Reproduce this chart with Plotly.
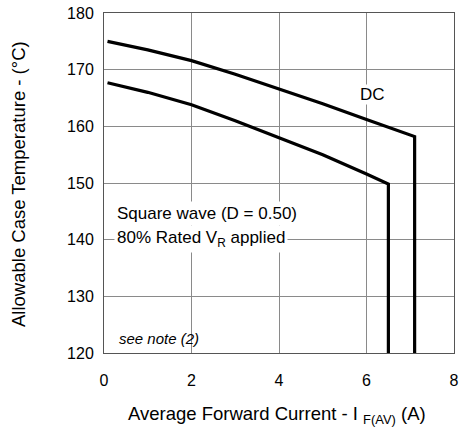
import plotly.graph_objects as go

# Derating curves: allowable case temperature vs. average forward current
dc_current = [0.08, 1.0, 2.0, 3.0, 4.0, 5.0, 6.0, 7.1, 7.1]
dc_temp = [175.0, 173.5, 171.6, 169.2, 166.6, 164.0, 161.2, 158.2, 120.0]

sq_current = [0.08, 1.0, 2.0, 3.0, 4.0, 5.0, 6.0, 6.5, 6.5]
sq_temp = [167.7, 166.0, 163.8, 161.0, 158.0, 155.0, 151.6, 149.8, 120.0]

x_ticks = [0, 2, 4, 6, 8]
y_ticks = [120, 130, 140, 150, 160, 170, 180]

FONT = "Liberation Sans, Arial, sans-serif"

fig = go.Figure()
fig.add_trace(go.Scatter(x=dc_current, y=dc_temp, mode="lines",
                         line=dict(color="black", width=3.2), name="DC"))
fig.add_trace(go.Scatter(x=sq_current, y=sq_temp, mode="lines",
                         line=dict(color="black", width=3.2), name="Square wave"))

# in-plot labels (white boxes hide the grid behind them)
fig.add_annotation(x=6.14, y=165.6, text="DC", showarrow=False,
                   font=dict(size=17, color="black", family=FONT),
                   bgcolor="white", borderpad=0)
fig.add_annotation(x=0.22, y=144.6, xanchor="left", yanchor="middle",
                   text="Square wave (D = 0.50)", showarrow=False,
                   bgcolor="white", borderpad=2,
                   font=dict(size=17, color="black", family=FONT))
fig.add_annotation(x=0.22, y=140.2, xanchor="left", yanchor="middle",
                   text="80% Rated V<sub>R</sub> applied", showarrow=False,
                   bgcolor="white", borderpad=2,
                   font=dict(size=17, color="black", family=FONT))
fig.add_annotation(x=0.3, y=122.6, xanchor="left", text="<i>see note (2)</i>",
                   showarrow=False, font=dict(size=15, color="black", family=FONT))

# axis titles
fig.add_annotation(xref="paper", yref="paper", x=0.5, y=0, yanchor="middle",
                   yshift=-62, xshift=-2, showarrow=False,
                   text="Average Forward Current - I <sub>F(AV)</sub> (A)",
                   font=dict(size=18.5, color="black", family=FONT))
fig.add_annotation(xref="paper", yref="paper", x=0, y=0.5, xanchor="center",
                   xshift=-86, yshift=-1, textangle=-90, showarrow=False,
                   text="Allowable Case Temperature - (°C)",
                   font=dict(size=18.5, color="black", family=FONT))

axis_common = dict(showgrid=True, gridcolor="#8a8a8a", gridwidth=1,
                   showline=True, linecolor="#555555", linewidth=1, mirror=True,
                   zeroline=False, ticks="", automargin=False,
                   tickfont=dict(size=16, color="black", family=FONT))

fig.update_xaxes(range=[0, 8], tickvals=x_ticks, ticklabelstandoff=13, **axis_common)
fig.update_yaxes(range=[120, 180], tickvals=y_ticks, ticklabelstandoff=6, **axis_common)

fig.update_layout(width=462, height=432, showlegend=False,
                  plot_bgcolor="white", paper_bgcolor="white",
                  margin=dict(l=104, r=8, t=13, b=79))

fig.write_html("out.html")
